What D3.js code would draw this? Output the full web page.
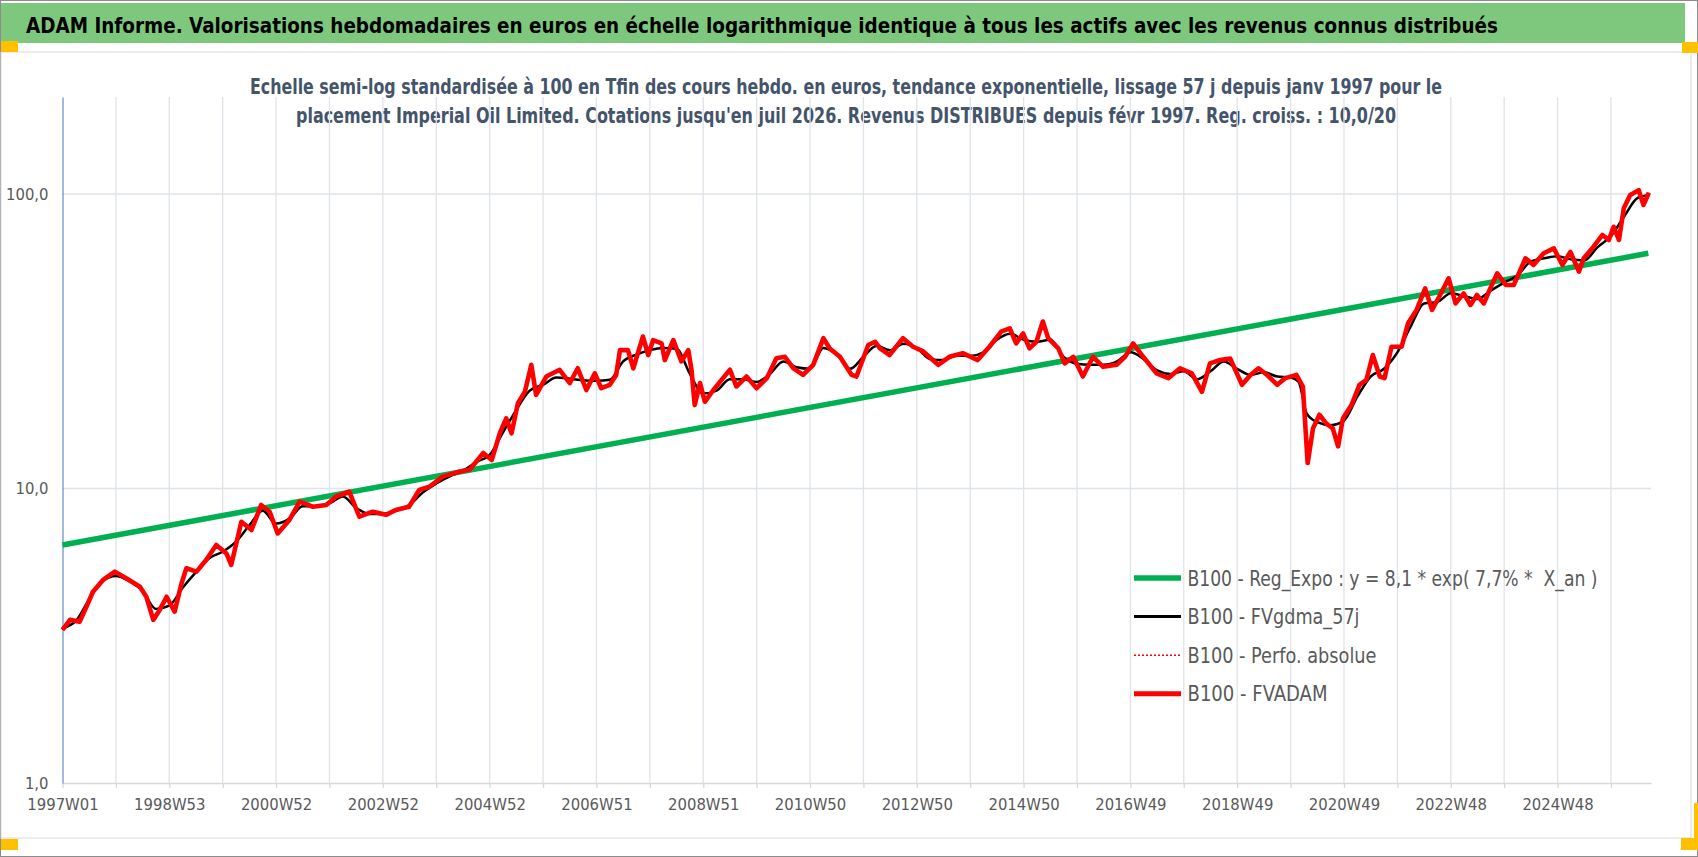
<!DOCTYPE html>
<html>
<head>
<meta charset="utf-8">
<script src="https://cdn.jsdelivr.net/npm/d3@7/dist/d3.min.js"></script>
<style>
  body { margin: 0; background: #fff; }
  svg { display: block; }
  text { font-family: "Liberation Sans Narrow", "DejaVu Sans Condensed", "Liberation Sans", sans-serif; white-space: pre; }
</style>
</head>
<body>
<div id="chart"></div>
<script>
// ---- data ----
const titleText = "ADAM Informe. Valorisations hebdomadaires en euros en échelle logarithmique identique à tous les actifs avec les revenus connus distribués";
const subtitleLines = [
  "Echelle semi-log standardisée à 100 en Tfin des cours hebdo. en euros, tendance exponentielle, lissage 57 j depuis janv 1997 pour le",
  "placement Imperial Oil Limited. Cotations jusqu'en juil 2026. Revenus DISTRIBUES depuis févr 1997. Reg. croiss. : 10,0/20"
];

const gridYears = [1997, 1998, 1999, 2000, 2001, 2002, 2003, 2004, 2005, 2006, 2007, 2008, 2009, 2010, 2011,
  2012, 2013, 2014, 2015, 2016, 2017, 2018, 2019, 2020, 2021, 2022, 2023, 2024, 2025, 2026];
const labelYears = [1997, 1999, 2001, 2003, 2005, 2007, 2009, 2011, 2013, 2015, 2017, 2019, 2021, 2023, 2025];
const weekLabels = ["1997W01", "1998W53", "2000W52", "2002W52", "2004W52", "2006W51", "2008W51", "2010W50",
  "2012W50", "2014W50", "2016W49", "2018W49", "2020W49", "2022W48", "2024W48"];
const yTicks = [1, 10, 100];

const legendLabels = [
  "B100 - Reg_Expo : y = 8,1 * exp( 7,7% *  X_an )",
  "B100 - FVgdma_57j",
  "B100 - Perfo. absolue",
  "B100 - FVADAM"
];

// regression line (straight on the log axis): start and end
const regYears = [1997.0, 2026.7];
const regValues = [6.43, 62.9];

// FVADAM (red), decimal year / value
const redYears = [
  1997.00, 1997.14, 1997.32, 1997.45, 1997.57, 1997.76, 1997.98, 1998.20, 1998.45, 1998.57, 1998.70, 1998.82,
  1998.95, 1999.10, 1999.23, 1999.32, 1999.51, 1999.69, 1999.88, 2000.07, 2000.16, 2000.35, 2000.54, 2000.72,
  2000.88, 2001.03, 2001.25, 2001.44, 2001.69, 2001.94, 2002.12, 2002.37, 2002.56, 2002.81, 2003.06, 2003.24,
  2003.49, 2003.68, 2003.87, 2004.12, 2004.43, 2004.63, 2004.88, 2005.04, 2005.19, 2005.31, 2005.41, 2005.53,
  2005.66, 2005.78, 2005.87, 2006.06, 2006.31, 2006.50, 2006.65, 2006.81, 2006.97, 2007.09, 2007.25, 2007.37,
  2007.44, 2007.59, 2007.69, 2007.87, 2007.97, 2008.06, 2008.22, 2008.28, 2008.44, 2008.59, 2008.72, 2008.78,
  2008.84, 2008.94, 2009.03, 2009.19, 2009.37, 2009.50, 2009.62, 2009.81, 2010.00, 2010.19, 2010.37, 2010.53,
  2010.69, 2010.87, 2011.06, 2011.25, 2011.37, 2011.56, 2011.78, 2011.87, 2012.09, 2012.22, 2012.31, 2012.49,
  2012.74, 2012.93, 2013.12, 2013.40, 2013.61, 2013.86, 2014.14, 2014.36, 2014.58, 2014.74, 2014.86, 2014.99,
  2015.11, 2015.24, 2015.36, 2015.46, 2015.65, 2015.77, 2015.93, 2016.11, 2016.30, 2016.49, 2016.74, 2016.90,
  2017.05, 2017.24, 2017.49, 2017.71, 2017.93, 2018.15, 2018.34, 2018.49, 2018.68, 2018.87, 2019.09, 2019.25,
  2019.40, 2019.56, 2019.75, 2019.90, 2020.11, 2020.23, 2020.32, 2020.42, 2020.54, 2020.67, 2020.79, 2020.89,
  2020.98, 2021.14, 2021.29, 2021.42, 2021.54, 2021.67, 2021.76, 2021.89, 2022.08, 2022.20, 2022.36, 2022.52,
  2022.65, 2022.80, 2022.96, 2023.09, 2023.24, 2023.37, 2023.49, 2023.62, 2023.74, 2023.87, 2024.03, 2024.18,
  2024.40, 2024.55, 2024.74, 2024.93, 2025.09, 2025.24, 2025.40, 2025.49, 2025.65, 2025.84, 2025.96, 2026.05,
  2026.15, 2026.24, 2026.36, 2026.52, 2026.61, 2026.71
];
const redValues = [
  3.31, 3.58, 3.53, 3.97, 4.46, 4.89, 5.22, 4.95, 4.64, 4.29, 3.58, 3.87,
  4.29, 3.82, 4.77, 5.36, 5.22, 5.72, 6.43, 6.02, 5.50, 7.71, 7.23, 8.79,
  8.34, 7.04, 7.82, 9.02, 8.67, 8.79, 9.38, 9.75, 8.02, 8.34, 8.14, 8.45,
  8.67, 9.88, 10.14, 10.97, 11.4, 11.6, 13.2, 12.5, 15.4, 17.3, 15.4, 19.5,
  21.3, 26.3, 20.8, 24.0, 25.3, 22.8, 25.6, 21.6, 24.6, 21.9, 22.5, 24.3,
  29.5, 29.5, 25.6, 32.8, 28.4, 31.9, 31.1, 27.3, 31.9, 27.0, 29.5, 25.3,
  19.2, 22.8, 19.7, 21.6, 23.7, 25.3, 22.2, 24.0, 21.9, 23.7, 27.7, 28.0,
  25.6, 24.3, 26.3, 32.4, 29.9, 28.0, 24.3, 24.0, 30.7, 31.5, 29.9, 28.4,
  32.4, 30.3, 29.2, 26.3, 28.0, 28.8, 27.3, 30.3, 34.1, 35.0, 31.1, 33.6,
  29.9, 31.5, 36.9, 32.4, 29.9, 26.6, 28.0, 24.0, 28.0, 25.9, 26.3, 28.0,
  31.1, 28.0, 24.6, 23.7, 25.6, 24.6, 21.3, 26.6, 27.3, 27.6, 22.5, 24.3,
  25.6, 24.3, 22.5, 23.7, 24.3, 22.2, 12.2, 16.0, 17.8, 16.6, 16.0, 13.9,
  17.3, 19.2, 22.5, 23.4, 28.4, 24.0, 23.7, 30.3, 30.3, 36.4, 40.4, 47.8,
  40.4, 45.4, 51.7, 42.5, 46.0, 42.0, 45.4, 42.5, 47.8, 53.8, 49.1, 49.1,
  60.5, 57.4, 62.9, 65.4, 57.4, 63.6, 54.5, 60.5, 65.4, 72.6, 69.8, 77.4,
  69.8, 89.4, 99.2, 103, 91.8, 101
];

// FVgdma_57j (black, smoothed), decimal year / value
const blackYears = [
  1997.00, 1997.25, 1997.50, 1997.75, 1998.00, 1998.25, 1998.50, 1998.75, 1999.00, 1999.25, 1999.50, 1999.75,
  2000.00, 2000.25, 2000.50, 2000.75, 2001.00, 2001.25, 2001.50, 2001.75, 2002.00, 2002.25, 2002.50, 2002.75,
  2003.00, 2003.25, 2003.50, 2003.75, 2004.00, 2004.25, 2004.50, 2004.75, 2005.00, 2005.25, 2005.50, 2005.75,
  2006.00, 2006.25, 2006.50, 2006.75, 2007.00, 2007.25, 2007.50, 2007.75, 2008.00, 2008.25, 2008.50, 2008.75,
  2009.00, 2009.25, 2009.50, 2009.75, 2010.00, 2010.25, 2010.50, 2010.75, 2011.00, 2011.25, 2011.50, 2011.75,
  2012.00, 2012.25, 2012.50, 2012.75, 2013.00, 2013.25, 2013.50, 2013.75, 2014.00, 2014.25, 2014.50, 2014.75,
  2015.00, 2015.25, 2015.50, 2015.75, 2016.00, 2016.25, 2016.50, 2016.75, 2017.00, 2017.25, 2017.50, 2017.75,
  2018.00, 2018.25, 2018.50, 2018.75, 2019.00, 2019.25, 2019.50, 2019.75, 2020.00, 2020.15, 2020.30, 2020.50,
  2020.75, 2021.00, 2021.25, 2021.50, 2021.75, 2022.00, 2022.25, 2022.50, 2022.75, 2023.00, 2023.25, 2023.50,
  2023.75, 2024.00, 2024.25, 2024.50, 2024.75, 2025.00, 2025.25, 2025.50, 2025.75, 2026.00, 2026.25, 2026.50,
  2026.70
];
const blackValues = [
  3.35, 3.55, 4.2, 4.85, 5.05, 4.85, 4.5, 3.9, 4.0, 4.6, 5.2, 5.8,
  6.1, 6.6, 7.5, 8.4, 7.6, 7.9, 8.7, 8.7, 8.9, 9.4, 8.6, 8.2,
  8.2, 8.4, 8.8, 9.7, 10.4, 11.0, 11.5, 12.3, 13.0, 15.5, 18.5, 21.5,
  22.5, 23.8, 23.6, 23.3, 23.2, 23.4, 27.0, 28.5, 29.5, 30.0, 29.8, 24.5,
  21.0, 21.5, 23.5, 23.5, 23.0, 24.5, 27.0, 25.8, 25.5, 30.0, 28.5, 25.5,
  28.0, 30.5, 29.5, 31.0, 30.0, 27.5, 27.3, 28.3, 28.2, 29.0, 32.0, 33.5,
  32.0, 31.5, 32.0, 28.0, 26.5, 26.3, 26.3, 27.0, 29.0, 27.5, 25.2, 24.5,
  25.0, 23.5, 25.0, 27.0, 25.5, 24.3, 24.8, 24.0, 23.8, 23.0, 18.0, 16.8,
  16.4, 17.0, 20.5, 24.0, 25.5, 29.0, 35.5, 42.5, 43.0, 46.0, 45.0, 44.0,
  47.0, 50.0, 53.0, 59.0, 60.5, 61.5, 60.0, 59.5, 66.0, 72.0, 84.0, 97.0,
  99.0
];

// ---- layout ----
const W = 1698, H = 857;
const plot = { left: 62.5, right: 1651, top: 97, bottom: 783 };
const fontStack = "\"Liberation Sans Narrow\", \"DejaVu Sans Condensed\", \"Liberation Sans\", sans-serif";

const svg = d3.select("#chart").append("svg")
  .attr("width", W)
  .attr("height", H);

// frame
svg.append("rect").attr("x", 0.5).attr("y", 0.5).attr("width", W - 1).attr("height", H - 1)
  .attr("fill", "#fff").attr("stroke", "#8c8c8c");
svg.append("rect").attr("x", 1).attr("y", 52).attr("width", 1690).attr("height", 786)
  .attr("fill", "none").attr("stroke", "#d9d9d9");

// title band
svg.append("rect").attr("x", 1).attr("y", 3).attr("width", 1684).attr("height", 40)
  .attr("fill", "#7ec87e");
svg.append("text")
  .attr("x", 26).attr("y", 32.5)
  .attr("textLength", 1472).attr("lengthAdjust", "spacingAndGlyphs")
  .style("font-size", "22px").style("font-weight", "bold").style("fill", "#000")
  .text(titleText);

// corner markers
const yellow = "#ffc000";
[[1, 41, 17, 11], [1682, 42, 16, 11], [1, 839, 17, 11], [1681, 838, 17, 12], [1694, 803, 4, 36]]
  .forEach(function(r) {
    svg.append("rect").attr("x", r[0]).attr("y", r[1]).attr("width", r[2]).attr("height", r[3]).attr("fill", yellow);
  });

// subtitle
const subWidths = [1192, 1100];
svg.selectAll("text.sub")
  .data(subtitleLines).enter()
  .append("text")
    .attr("class", "sub")
    .attr("x", 846)
    .attr("y", function(d, i) { return 93.5 + i * 29; })
    .attr("text-anchor", "middle")
    .attr("textLength", function(d, i) { return subWidths[i]; })
    .attr("lengthAdjust", "spacingAndGlyphs")
    .style("font-size", "20.5px").style("font-weight", "bold").style("fill", "#44546a")
    .text(function(d) { return d; });

// scales
const scaleX = d3.scaleLinear()
  .domain([1997, 2026.75])
  .range([plot.left, plot.right]);

const scaleY = d3.scaleLog()
  .domain([1, Math.pow(10, 2 + (194 - plot.top) / 294.5)])
  .range([plot.bottom, plot.top]);

const grid = svg.append("g").attr("class", "grid");

grid.selectAll("line.v")
  .data(gridYears.slice(1)).enter()
  .append("line")
    .attr("x1", function(d) { return scaleX(d); })
    .attr("x2", function(d) { return scaleX(d); })
    .attr("y1", plot.top).attr("y2", plot.bottom)
    .attr("stroke", "#dfe3ea").attr("stroke-width", 1.3);

grid.selectAll("line.h")
  .data(yTicks.slice(1)).enter()
  .append("line")
    .attr("x1", plot.left).attr("x2", plot.right)
    .attr("y1", function(d) { return scaleY(d); })
    .attr("y2", function(d) { return scaleY(d); })
    .attr("stroke", "#dfe3ea").attr("stroke-width", 1.3);

// x axis
const labelOf = new Map(labelYears.map(function(y, i) { return [y, weekLabels[i]]; }));
const xAxis = svg.append("g")
  .attr("transform", `translate(0, ${plot.bottom})`)
  .call(d3.axisBottom(scaleX)
    .tickValues(gridYears)
    .tickSize(5)
    .tickSizeOuter(0)
    .tickPadding(10)
    .tickFormat(function(d) { return labelOf.get(d) || ""; }));
xAxis.select(".domain").attr("stroke", "#d9d9d9").attr("stroke-width", 1.3);
xAxis.selectAll(".tick line").attr("stroke", "#d9d9d9").attr("stroke-width", 1.3);
xAxis.selectAll(".tick text")
  .style("font-size", "16.5px").style("fill", "#595959")
  .style("font-family", fontStack);

// y axis
const yAxis = svg.append("g")
  .attr("transform", `translate(${plot.left}, 0)`)
  .call(d3.axisLeft(scaleY)
    .tickValues(yTicks)
    .tickSize(0)
    .tickPadding(14)
    .tickFormat(function(d) { return d.toFixed(1).replace(".", ","); }));
yAxis.select(".domain").attr("stroke", "#4472c4").attr("stroke-width", 1);
yAxis.selectAll(".tick text")
  .style("font-size", "16.5px").style("fill", "#595959")
  .style("font-family", fontStack);

// series
const line = d3.line()
  .x(function(d) { return scaleX(d[0]); })
  .y(function(d) { return scaleY(d[1]); });

const regData = d3.zip(regYears, regValues);
const redData = d3.zip(redYears, redValues);
const blackData = d3.zip(blackYears, blackValues);

svg.append("path").datum(regData)
  .attr("d", line).attr("fill", "none")
  .attr("stroke", "#00b050").attr("stroke-width", 5.5);

svg.append("path").datum(blackData)
  .attr("d", line.curve(d3.curveMonotoneX)).attr("fill", "none")
  .attr("stroke", "#000").attr("stroke-width", 2.5);

line.curve(d3.curveLinear);

svg.append("path").datum(redData)
  .attr("d", line).attr("fill", "none")
  .attr("stroke", "#ff0000").attr("stroke-width", 1.5).attr("stroke-dasharray", "2,2");

svg.append("path").datum(redData)
  .attr("d", line).attr("fill", "none")
  .attr("stroke", "#ff0000").attr("stroke-width", 4.6)
  .attr("stroke-linejoin", "round");

// legend
const legendStyles = [
  { color: "#00b050", width: 5.5, dash: null, len: 410 },
  { color: "#000", width: 3, dash: null, len: 172 },
  { color: "#ff0000", width: 1.5, dash: "2,2", len: 189 },
  { color: "#ff0000", width: 5, dash: null, len: 140 }
];
const legend = svg.append("g").attr("class", "legend");
const items = legend.selectAll("g")
  .data(legendLabels).enter()
  .append("g")
    .attr("transform", function(d, i) { return `translate(1134, ${578 + i * 38.6})`; });

items.append("line")
  .attr("x1", 0).attr("x2", 47).attr("y1", 0).attr("y2", 0)
  .attr("stroke", function(d, i) { return legendStyles[i].color; })
  .attr("stroke-width", function(d, i) { return legendStyles[i].width; })
  .attr("stroke-dasharray", function(d, i) { return legendStyles[i].dash; });

items.append("text")
  .attr("x", 53.5).attr("y", 7.5)
  .attr("textLength", function(d, i) { return legendStyles[i].len; })
  .attr("lengthAdjust", "spacingAndGlyphs")
  .style("font-size", "21px").style("fill", "#595959")
  .text(function(d) { return d; });
</script>
</body>
</html>
